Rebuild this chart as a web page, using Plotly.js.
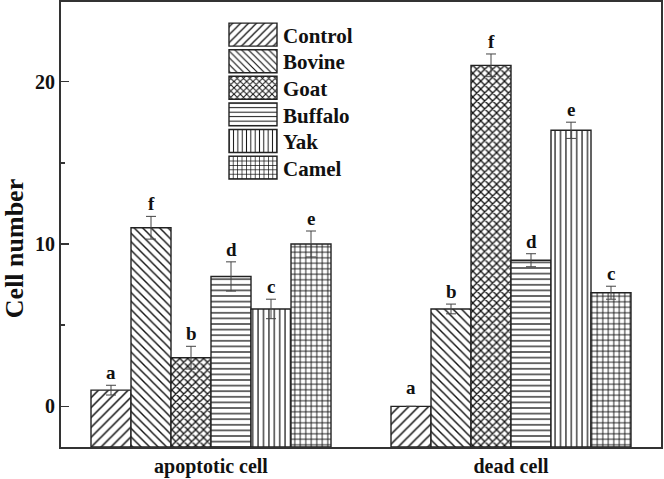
<!DOCTYPE html>
<html>
<head>
<meta charset="utf-8">
<script src="https://cdn.plot.ly/plotly-3.0.1.min.js"></script>
<style>html,body{margin:0;padding:0;background:#fff;}</style>
</head>
<body>
<div id="chart" style="width:664px;height:479px;"></div>
<script>
const categories = ["apoptotic cell", "dead cell"];
const seriesNames = ["Control", "Bovine", "Goat", "Buffalo", "Yak", "Camel"];
const values = {
  Control: [1, 0],
  Bovine: [11, 6],
  Goat: [3, 21],
  Buffalo: [8, 9],
  Yak: [6, 17],
  Camel: [10, 7]
};
const errors = {
  Control: [0.3, 0],
  Bovine: [0.7, 0.3],
  Goat: [0.7, 0.7],
  Buffalo: [0.9, 0.4],
  Yak: [0.6, 0.5],
  Camel: [0.8, 0.4]
};
const letters = {
  Control: ["a", "a"],
  Bovine: ["f", "b"],
  Goat: ["b", "f"],
  Buffalo: ["d", "d"],
  Yak: ["c", "e"],
  Camel: ["e", "c"]
};
const patterns = {
  Control: {shape: "/", size: 7, solidity: 0.22},
  Bovine: {shape: "\\", size: 6, solidity: 0.24},
  Goat: {shape: "x", size: 5.6, solidity: 0.4},
  Buffalo: {shape: "-", size: 5.6, solidity: 0.22},
  Yak: {shape: "|", size: 5.4, solidity: 0.22},
  Camel: {shape: "+", size: 5.5, solidity: 0.3}
};
const yRange = [-2.5, 24.9];

const FONT = "Liberation Serif, Times New Roman, serif";
const bargap = 0.2;
const n = seriesNames.length;
const bw = (1 - bargap) / n;
const baseY = yRange[0];

const traces = seriesNames.map(name => ({
  type: "bar",
  name: name,
  x: categories,
  base: baseY,
  y: values[name].map(v => v - baseY),
  marker: {
    color: "white",
    line: {color: "#222", width: 1.4},
    pattern: {shape: patterns[name].shape, size: patterns[name].size, solidity: patterns[name].solidity, fgcolor: "#111", bgcolor: "white", fillmode: "replace"}
  },
  error_y: {type: "data", array: errors[name], visible: true, color: "#444", thickness: 1, width: 5}
}));

const annotations = [];
seriesNames.forEach((name, i) => {
  categories.forEach((c, ci) => {
    annotations.push({
      x: ci - (1 - bargap) / 2 + bw * (i + 0.5),
      y: values[name][ci] + errors[name][ci],
      xref: "x", yref: "y",
      text: "<b>" + letters[name][ci] + "</b>",
      showarrow: false,
      yanchor: "bottom",
      yshift: values[name][ci] === 0 ? 6 : 0,
      font: {family: FONT, size: 19, color: "#111"}
    });
  });
});

const layout = {
  width: 664, height: 479,
  margin: {l: 61, r: 3, t: 2, b: 32},
  paper_bgcolor: "white", plot_bgcolor: "white",
  barmode: "group", bargap: bargap, bargroupgap: 0,
  showlegend: true,
  legend: {
    x: 0.27, y: 0.972, xanchor: "left", yanchor: "top",
    bgcolor: "rgba(0,0,0,0)", borderwidth: 0,
    font: {family: FONT, size: 21, color: "#111", weight: "bold"},
    itemwidth: 50, tracegroupgap: 0, traceorder: "normal"
  },
  xaxis: {
    type: "category",
    range: [-0.5, 1.5],
    showline: true, linecolor: "#333", linewidth: 2, mirror: true,
    ticks: "", showgrid: false, zeroline: false,
    tickfont: {family: FONT, size: 20, color: "#111", weight: "bold"},
    ticklabelstandoff: 0
  },
  yaxis: {
    range: yRange,
    tickvals: [0, 10, 20],
    ticktext: ["0", "10", "20"],
    ticks: "inside", ticklen: 8, tickwidth: 1.5, tickcolor: "#333",
    minor: {tickvals: [5, 15], ticks: "inside", ticklen: 4, tickwidth: 1.5, tickcolor: "#333"},
    showline: true, linecolor: "#333", linewidth: 2, mirror: true,
    showgrid: false, zeroline: false,
    tickfont: {family: FONT, size: 20, color: "#111", weight: "bold"},
    title: {text: "<b>Cell number</b>", font: {family: FONT, size: 26, color: "#111"}, standoff: 6}
  },
  annotations: annotations
};

Plotly.newPlot("chart", traces, layout, {displayModeBar: false, staticPlot: true}).then(() => {
  const items = document.querySelectorAll(".legend .traces");
  let x0 = null, y0 = null;
  items.forEach((g, i) => {
    const m = /translate\(([-\d.]+),\s*([-\d.]+)\)/.exec(g.getAttribute("transform") || "");
    if (m) {
      if (x0 === null) { x0 = parseFloat(m[1]); y0 = parseFloat(m[2]); }
      g.setAttribute("transform", "translate(" + x0 + "," + (y0 + i * 26.6) + ")");
    }
  });
  document.querySelectorAll(".legend .traces .legendpoints path").forEach(p => {
    p.setAttribute("d", "M24,11.5H-24V-11.5H24Z");
    p.style.strokeWidth = "1.4px";
  });
  const yt = document.querySelector(".ytitle");
  if (yt) {
    const t = yt.getAttribute("transform") || "";
    yt.setAttribute("transform", "translate(0,24) " + t);
  }
});
</script>
</body>
</html>
